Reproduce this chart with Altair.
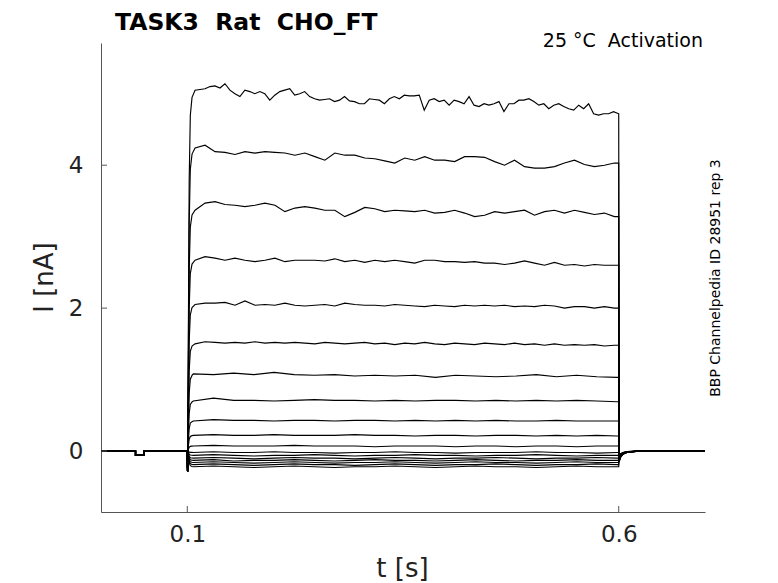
import altair as alt
import numpy as np
import pandas as pd

# ---------------- data ----------------
NB = "\u00a0"
TITLE = "TASK3" + NB + " Rat" + NB + " CHO_FT"
COND = "25 °C" + NB + " Activation"
SIDE = "BBP Channelpedia ID 28951 rep 3"

X_TICKS = [0.1, 0.6]
Y_TICKS = [0, 2, 4]

# holding period (with the small leak pulse)
PRE_T = [0.0, 0.04, 0.04, 0.05, 0.05, 0.0999]
PRE_I = [0.0, 0.0, -0.06, -0.06, 0.0, 0.0]
SPIKE_T = 0.1003
SPIKE_I = -0.29
RISE_T = [0.1012, 0.1022, 0.1035, 0.1055]
RISE_FRAC = [0.30, 0.75, 0.93, 0.98]

# step sweeps (nA), top to bottom
TOP = [5.05, 5.06, 5.07, 5.10, 5.11, 5.08, 5.14, 5.05, 5.00, 4.96, 5.05, 5.03, 5.00, 5.03, 5.00,
       4.91, 4.98, 5.03, 5.05, 5.07, 4.98, 5.00, 5.03, 4.96, 4.93, 4.91, 4.92, 4.93, 4.89, 4.91,
       4.96, 4.90, 4.89, 4.86, 4.86, 4.93, 4.92, 4.91, 4.86, 4.93, 4.96, 4.93,
       4.98, 4.97, 4.97, 4.98, 4.77, 4.91, 4.93, 4.89, 4.91, 4.84, 4.91, 4.89, 4.86, 4.96, 4.84,
       4.82, 4.86, 4.84, 4.86, 4.89, 4.75, 4.86, 4.86, 4.91, 4.91, 4.93, 4.89, 4.84, 4.86, 4.79,
       4.84, 4.86, 4.82, 4.79, 4.77, 4.84, 4.79, 4.86, 4.72, 4.70, 4.72, 4.72, 4.75, 4.72]
S2 = [4.24, 4.28, 4.19, 4.18, 4.15, 4.19, 4.17, 4.19, 4.18, 4.17, 4.14, 4.17, 4.12, 4.07, 4.17,
      4.14, 4.14, 4.10, 4.09, 4.06, 4.03, 4.10, 4.07, 4.12, 4.07, 4.07, 4.05, 4.12, 4.12, 4.11,
      4.05, 4.00, 4.07, 3.98, 3.96, 3.96, 3.98, 4.03, 4.07, 4.01, 3.98, 4.00, 4.03]
S3 = [3.37, 3.47, 3.49, 3.45, 3.44, 3.42, 3.44, 3.47, 3.44, 3.35, 3.40, 3.42, 3.40, 3.37, 3.37,
      3.28, 3.34, 3.41, 3.39, 3.35, 3.37, 3.36, 3.35, 3.37, 3.33, 3.34, 3.37, 3.33, 3.28, 3.30,
      3.35, 3.33, 3.35, 3.37, 3.30, 3.35, 3.37, 3.33, 3.37, 3.34, 3.31, 3.33, 3.28]
S4 = [2.67, 2.72, 2.70, 2.67, 2.70, 2.67, 2.65, 2.67, 2.70, 2.65, 2.67, 2.67, 2.67, 2.66, 2.69,
      2.65, 2.67, 2.64, 2.67, 2.65, 2.67, 2.65, 2.63, 2.67, 2.67, 2.65, 2.65, 2.64, 2.65, 2.63,
      2.63, 2.61, 2.63, 2.66, 2.63, 2.60, 2.64, 2.60, 2.61, 2.59, 2.61, 2.60, 2.60]
S5 = [2.05, 2.07, 2.07, 2.08, 2.04, 2.10, 2.04, 2.05, 2.04, 2.07, 2.04, 2.03, 2.04, 2.05, 2.03,
      2.07, 2.05, 2.04, 2.04, 2.03, 2.05, 2.04, 2.03, 2.02, 2.04, 2.03, 2.02, 2.04, 2.03, 2.04,
      2.03, 2.04, 2.02, 2.03, 2.02, 2.04, 2.03, 2.00, 2.02, 2.02, 2.00, 2.02, 2.00]
S6 = [1.50, 1.53, 1.52, 1.51, 1.52, 1.51, 1.53, 1.51, 1.52, 1.51, 1.52, 1.51, 1.50, 1.52, 1.51,
      1.50, 1.51, 1.52, 1.50, 1.51, 1.49, 1.51, 1.50, 1.52, 1.50, 1.49, 1.51, 1.50, 1.49, 1.51,
      1.50, 1.49, 1.51, 1.49, 1.50, 1.48, 1.50, 1.48, 1.49, 1.48, 1.49, 1.47, 1.48]
S7 = [1.08, 1.07, 1.09, 1.07, 1.10, 1.07, 1.06, 1.07, 1.05, 1.06, 1.05, 1.06, 1.03, 1.06, 1.05,
      1.04, 1.05, 1.07, 1.04, 1.06, 1.04, 1.03]
S8 = [0.70, 0.74, 0.71, 0.71, 0.70, 0.71, 0.72, 0.71, 0.71, 0.70, 0.71, 0.70, 0.71, 0.71, 0.70,
      0.71, 0.70, 0.71, 0.70, 0.71, 0.70, 0.69]
S9 = [0.42, 0.44, 0.43, 0.43, 0.42, 0.43, 0.43, 0.42, 0.43, 0.43, 0.42, 0.43, 0.42, 0.43, 0.42,
      0.43, 0.42, 0.42, 0.43, 0.42, 0.42, 0.42]
S10 = [0.22, 0.23, 0.22, 0.22, 0.23, 0.22, 0.22, 0.22, 0.23, 0.22, 0.22, 0.21, 0.22, 0.22, 0.21,
       0.22, 0.22, 0.21, 0.22, 0.21, 0.22, 0.21]
S11 = [0.07, 0.08, 0.07, 0.07, 0.07, 0.08, 0.07, 0.07, 0.07, 0.06, 0.07, 0.07, 0.07, 0.06, 0.07,
       0.07, 0.06, 0.07, 0.07, 0.06, 0.07, 0.07]
S12 = [-0.02, -0.01, -0.02, -0.02, -0.01, -0.02, -0.02, -0.03, -0.02, -0.02, -0.01, -0.02, -0.02,
       -0.03, -0.02, -0.02, -0.02, -0.01, -0.02, -0.02, -0.03, -0.02]
S13 = [-0.06, -0.05, -0.06, -0.07, -0.06, -0.06, -0.05, -0.06, -0.07, -0.06, -0.06, -0.05, -0.06,
       -0.06, -0.07, -0.06, -0.06, -0.05, -0.06, -0.07, -0.06, -0.06]
S14 = [-0.10, -0.09, -0.10, -0.11, -0.10, -0.09, -0.10, -0.10, -0.11, -0.10, -0.09, -0.10, -0.11,
       -0.10, -0.10, -0.09, -0.10, -0.11, -0.10, -0.10, -0.09, -0.10]
S15 = [-0.13, -0.12, -0.14, -0.13, -0.13, -0.12, -0.13, -0.14, -0.13, -0.12, -0.13, -0.13, -0.14,
       -0.13, -0.12, -0.13, -0.14, -0.13, -0.13, -0.12, -0.13, -0.13]
S16 = [-0.16, -0.15, -0.16, -0.17, -0.16, -0.15, -0.16, -0.17, -0.16, -0.16, -0.15, -0.16, -0.17,
       -0.16, -0.15, -0.16, -0.16, -0.17, -0.16, -0.15, -0.16, -0.16]
S17 = [-0.19, -0.18, -0.19, -0.20, -0.19, -0.18, -0.19, -0.19, -0.20, -0.19, -0.18, -0.19, -0.20,
       -0.19, -0.19, -0.18, -0.19, -0.20, -0.19, -0.19, -0.18, -0.19]
S18 = [-0.22, -0.21, -0.22, -0.23, -0.22, -0.21, -0.22, -0.23, -0.22, -0.22, -0.21, -0.22, -0.23,
       -0.22, -0.21, -0.22, -0.22, -0.23, -0.22, -0.21, -0.22, -0.22]

SWEEPS = [TOP, S2, S3, S4, S5, S6, S7, S8, S9, S10, S11, S12, S13, S14, S15, S16, S17, S18]
STEP_START = [0.109, 0.109, 0.109, 0.109, 0.109, 0.109] + [0.107] * 12
STEP_END = [0.5998, 0.595, 0.595, 0.595, 0.595, 0.595] + [0.598] * 12

# tail after the step
TAIL0 = [-0.15, -0.15, -0.14, -0.14, -0.13, -0.13, -0.12, -0.12, -0.11, -0.11, -0.10, -0.10,
         -0.09, -0.09, -0.08, -0.08, -0.07, -0.07]
TAIL_T = [0.6005, 0.602, 0.605, 0.61, 0.62]
TAIL_FRAC = [1.0, 0.6, 0.3, 0.12, 0.03]
END_T = 0.7

X_DOMAIN = [0.0, 0.7]
Y_DOMAIN = [-0.853, 5.71]

# ---------------- build the long table ----------------
rows = []
for k, vals in enumerate(SWEEPS):
    pts = []
    pts += list(zip(PRE_T, PRE_I))
    pts.append((SPIKE_T, SPIKE_I))
    pts += [(t, f * vals[0]) for t, f in zip(RISE_T, RISE_FRAC)]
    tg = np.linspace(STEP_START[k], STEP_END[k], len(vals))
    pts += list(zip(tg, vals))
    pts.append((0.6, vals[-1]))
    pts += [(t, f * TAIL0[k]) for t, f in zip(TAIL_T, TAIL_FRAC)]
    pts.append((END_T, 0.0))
    for j, (t, i) in enumerate(pts):
        rows.append({"sweep": k, "seq": j, "t": float(t), "I": float(i)})
df = pd.DataFrame(rows)

W, H = 604, 469
FONT = "DejaVu Sans"
GREY = "#555555"
TXT = "#222222"

xs = alt.Scale(domain=X_DOMAIN, nice=False, zero=False)
ys = alt.Scale(domain=Y_DOMAIN, nice=False, zero=False)

lines = alt.Chart(df).mark_line(color="black", strokeWidth=1.15, clip=True).encode(
    x=alt.X("t:Q", scale=xs,
            axis=alt.Axis(values=X_TICKS, format=".1f", title="t [s]", ticks=False, tickSize=0,
                          grid=False, labelPadding=11, labelFontSize=23, titleFontSize=26,
                          titleFontWeight="normal", labelColor=TXT, titleColor=TXT,
                          domainColor=GREY, titleX=301, titleY=56, titleBaseline="middle",
                          labelFont=FONT, titleFont=FONT)),
    y=alt.Y("I:Q", scale=ys,
            axis=alt.Axis(values=Y_TICKS, format="d", title="I [nA]", ticks=False, tickSize=0,
                          grid=False, labelPadding=18, labelFontSize=23, titleFontSize=26,
                          titleFontWeight="normal", labelColor=TXT, titleColor=TXT,
                          domainColor=GREY, titleX=-57, titleY=234, titleBaseline="middle",
                          titleAlign="center", labelFont=FONT, titleFont=FONT)),
    detail="sweep:N",
    order="seq:Q",
)

xt = alt.Chart(pd.DataFrame({"t": X_TICKS})).mark_rule(color=GREY, strokeWidth=1).encode(
    x=alt.X("t:Q", scale=xs), y=alt.value(H), y2=alt.value(H - 6))
yt = alt.Chart(pd.DataFrame({"I": Y_TICKS})).mark_rule(color=GREY, strokeWidth=1).encode(
    y=alt.Y("I:Q", scale=ys), x=alt.value(0), x2=alt.value(6))

one = pd.DataFrame({"a": [0]})
title = alt.Chart(one).mark_text(text=TITLE, font=FONT, fontSize=23.5, fontWeight="bold",
                                 align="left", baseline="alphabetic", color="black").encode(
    x=alt.value(14), y=alt.value(-13))
cond = alt.Chart(one).mark_text(text=COND, font=FONT, fontSize=19, align="right",
                                baseline="alphabetic", color="black").encode(
    x=alt.value(602), y=alt.value(4))
side = alt.Chart(one).mark_text(text=SIDE, font=FONT, fontSize=14, align="center",
                                baseline="middle", angle=270, color="black").encode(
    x=alt.value(615), y=alt.value(235))

chart = alt.layer(lines, xt, yt, title, cond, side).properties(
    width=W, height=H,
    autosize=alt.AutoSizeParams(type="none"),
    padding={"left": 93, "top": 35, "right": 65, "bottom": 70},
).configure_view(stroke=None)

chart.save("out.html", embed_options={"renderer": "svg", "actions": False})
